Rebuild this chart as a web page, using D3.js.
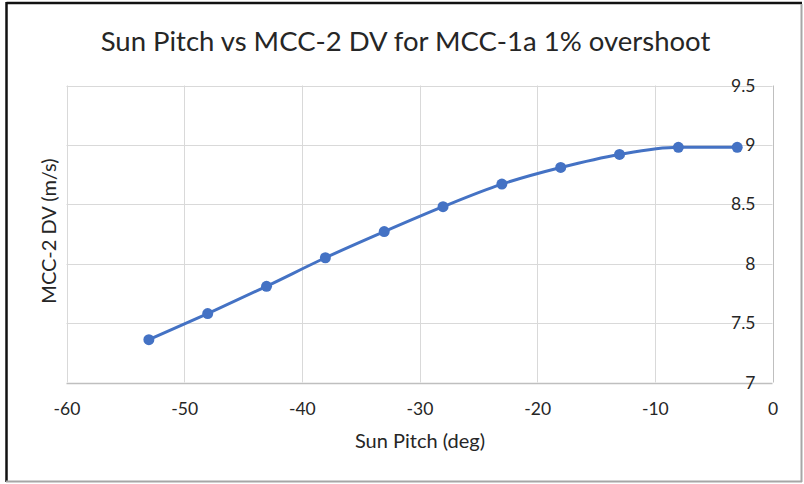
<!DOCTYPE html>
<html>
<head>
<meta charset="utf-8">
<script src="https://cdn.jsdelivr.net/npm/d3@7"></script>
<style>
  html, body { margin: 0; padding: 0; background: #fff; }
  svg { display: block; }
  text { font-family: Lato, "Open Sans", sans-serif; }
</style>
</head>
<body>
<svg id="chart" width="804" height="484"></svg>
<script>
// Sun pitch (deg) and the resulting MCC-2 delta-V (m/s)
const sunPitch = [-53, -48, -43, -38, -33, -28, -23, -18, -13, -8, -3];
const mcc2DV   = [7.36, 7.58, 7.81, 8.05, 8.27, 8.48, 8.67, 8.81, 8.92, 8.98, 8.98];
const xTicks = [-60, -50, -40, -30, -20, -10, 0];
const yTicks = [7, 7.5, 8, 8.5, 9, 9.5];

const chartTitle = "Sun Pitch vs MCC-2 DV for MCC-1a 1% overshoot";
const xTitle = "Sun Pitch (deg)";
const yTitle = "MCC-2 DV (m/s)";

const svg = d3.select("#chart");
const plot = { left: 66.5, right: 772.5, top: 85.5, bottom: 382.5 };

const x = d3.scaleLinear().domain([-60, 0]).range([plot.left, plot.right]);
const y = d3.scaleLinear().domain([7, 9.5]).range([plot.bottom, plot.top]);

// outer frame: dark top/left edges, light right/bottom edges
svg.append("line").attr("x1", 6.5).attr("x2", 802).attr("y1", 3).attr("y2", 3)
  .attr("stroke", "#111").attr("stroke-width", 2.5);
svg.append("line").attr("x1", 6.5).attr("x2", 6.5).attr("y1", 2).attr("y2", 482)
  .attr("stroke", "#111").attr("stroke-width", 2.5);
svg.append("line").attr("x1", 801.5).attr("x2", 801.5).attr("y1", 4).attr("y2", 482)
  .attr("stroke", "#a6a6a6").attr("stroke-width", 2);
svg.append("line").attr("x1", 6).attr("x2", 802).attr("y1", 481.5).attr("y2", 481.5)
  .attr("stroke", "#a6a6a6").attr("stroke-width", 2);

// gridlines
const grid = svg.append("g");
grid.selectAll("line.h").data(yTicks).join("line")
  .attr("x1", plot.left).attr("x2", plot.right)
  .attr("y1", d => Math.round(y(d)) + 0.5).attr("y2", d => Math.round(y(d)) + 0.5)
  .attr("stroke", d => d === 7 ? "#bfbfbf" : "#d9d9d9").attr("stroke-width", d => d === 7 ? 1.5 : 1);
grid.selectAll("line.v").data(xTicks).join("line")
  .attr("y1", plot.top).attr("y2", plot.bottom)
  .attr("x1", d => Math.round(x(d)) + 0.5).attr("x2", d => Math.round(x(d)) + 0.5)
  .attr("stroke", d => d === 0 ? "#bfbfbf" : "#d9d9d9").attr("stroke-width", 1);

// axes (labels only; lines drawn above)
const xAxis = svg.append("g")
  .attr("transform", `translate(0,${plot.bottom})`)
  .call(d3.axisBottom(x).tickValues(xTicks).tickSize(0).tickPadding(20).tickFormat(d => String(d)));
const yAxis = svg.append("g")
  .attr("transform", `translate(${plot.right},0)`)
  .call(d3.axisLeft(y).tickValues(yTicks).tickSize(0).tickPadding(17).tickFormat(d => String(d)));
[xAxis, yAxis].forEach(g => {
  g.select(".domain").remove();
  g.selectAll("text").attr("font-family", "Lato, 'Open Sans', sans-serif")
    .attr("font-size", 17.5).attr("fill", "#262626");
});

// smoothed series line
const pts = sunPitch.map((s, i) => [s, mcc2DV[i]]);
svg.append("path")
  .datum(pts)
  .attr("fill", "none")
  .attr("stroke", "#4472c4")
  .attr("stroke-width", 3)
  .attr("stroke-linejoin", "round")
  .attr("d", d3.line().x(d => x(d[0])).y(d => y(d[1])).curve(d3.curveMonotoneX));

svg.append("g").selectAll("circle").data(pts).join("circle")
  .attr("cx", d => x(d[0])).attr("cy", d => y(d[1])).attr("r", 5.5)
  .attr("fill", "#4472c4");

// titles
svg.append("text").attr("x", 405.5).attr("y", 51).attr("text-anchor", "middle")
  .attr("font-size", 27.5).attr("fill", "#262626").text(chartTitle);
svg.append("text").attr("x", 420).attr("y", 448).attr("text-anchor", "middle")
  .attr("font-size", 20).attr("fill", "#262626").text(xTitle);
svg.append("text").attr("transform", `translate(56,231) rotate(-90)`).attr("text-anchor", "middle")
  .attr("font-size", 20).attr("fill", "#262626").text(yTitle);
</script>
</body>
</html>
